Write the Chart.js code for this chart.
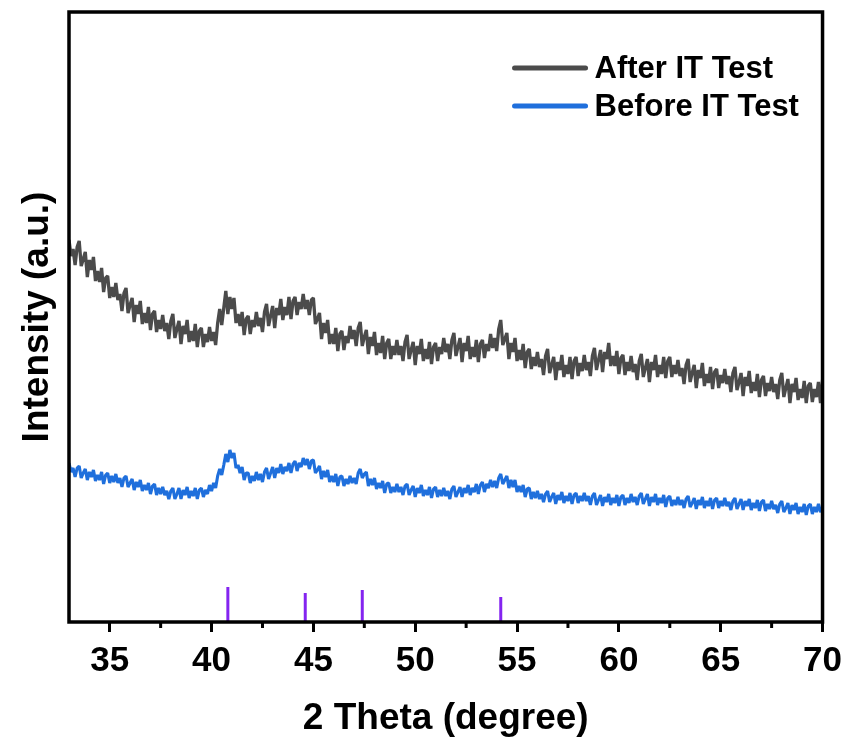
<!DOCTYPE html>
<html>
<head>
<meta charset="utf-8">
<script src="https://cdn.jsdelivr.net/npm/chart.js@4.4.0/dist/chart.umd.min.js"></script>
<style>
    body { margin: 0; background: #fff; }
    #wrap { width: 850px; height: 744px; }
</style>
</head>
<body>
<div id="wrap"><canvas id="xrd" width="850" height="744"></canvas></div>
<script>
// 2 theta scan (degree), one row per degree
const twoTheta = [
    33.0, 33.1, 33.2, 33.3, 33.4, 33.5, 33.6, 33.7, 33.8, 33.9,
    34.0, 34.1, 34.2, 34.3, 34.4, 34.5, 34.6, 34.7, 34.8, 34.9,
    35.0, 35.1, 35.2, 35.3, 35.4, 35.5, 35.6, 35.7, 35.8, 35.9,
    36.0, 36.1, 36.2, 36.3, 36.4, 36.5, 36.6, 36.7, 36.8, 36.9,
    37.0, 37.1, 37.2, 37.3, 37.4, 37.5, 37.6, 37.7, 37.8, 37.9,
    38.0, 38.1, 38.2, 38.3, 38.4, 38.5, 38.6, 38.7, 38.8, 38.9,
    39.0, 39.1, 39.2, 39.3, 39.4, 39.5, 39.6, 39.7, 39.8, 39.9,
    40.0, 40.1, 40.2, 40.3, 40.4, 40.5, 40.6, 40.7, 40.8, 40.9,
    41.0, 41.1, 41.2, 41.3, 41.4, 41.5, 41.6, 41.7, 41.8, 41.9,
    42.0, 42.1, 42.2, 42.3, 42.4, 42.5, 42.6, 42.7, 42.8, 42.9,
    43.0, 43.1, 43.2, 43.3, 43.4, 43.5, 43.6, 43.7, 43.8, 43.9,
    44.0, 44.1, 44.2, 44.3, 44.4, 44.5, 44.6, 44.7, 44.8, 44.9,
    45.0, 45.1, 45.2, 45.3, 45.4, 45.5, 45.6, 45.7, 45.8, 45.9,
    46.0, 46.1, 46.2, 46.3, 46.4, 46.5, 46.6, 46.7, 46.8, 46.9,
    47.0, 47.1, 47.2, 47.3, 47.4, 47.5, 47.6, 47.7, 47.8, 47.9,
    48.0, 48.1, 48.2, 48.3, 48.4, 48.5, 48.6, 48.7, 48.8, 48.9,
    49.0, 49.1, 49.2, 49.3, 49.4, 49.5, 49.6, 49.7, 49.8, 49.9,
    50.0, 50.1, 50.2, 50.3, 50.4, 50.5, 50.6, 50.7, 50.8, 50.9,
    51.0, 51.1, 51.2, 51.3, 51.4, 51.5, 51.6, 51.7, 51.8, 51.9,
    52.0, 52.1, 52.2, 52.3, 52.4, 52.5, 52.6, 52.7, 52.8, 52.9,
    53.0, 53.1, 53.2, 53.3, 53.4, 53.5, 53.6, 53.7, 53.8, 53.9,
    54.0, 54.1, 54.2, 54.3, 54.4, 54.5, 54.6, 54.7, 54.8, 54.9,
    55.0, 55.1, 55.2, 55.3, 55.4, 55.5, 55.6, 55.7, 55.8, 55.9,
    56.0, 56.1, 56.2, 56.3, 56.4, 56.5, 56.6, 56.7, 56.8, 56.9,
    57.0, 57.1, 57.2, 57.3, 57.4, 57.5, 57.6, 57.7, 57.8, 57.9,
    58.0, 58.1, 58.2, 58.3, 58.4, 58.5, 58.6, 58.7, 58.8, 58.9,
    59.0, 59.1, 59.2, 59.3, 59.4, 59.5, 59.6, 59.7, 59.8, 59.9,
    60.0, 60.1, 60.2, 60.3, 60.4, 60.5, 60.6, 60.7, 60.8, 60.9,
    61.0, 61.1, 61.2, 61.3, 61.4, 61.5, 61.6, 61.7, 61.8, 61.9,
    62.0, 62.1, 62.2, 62.3, 62.4, 62.5, 62.6, 62.7, 62.8, 62.9,
    63.0, 63.1, 63.2, 63.3, 63.4, 63.5, 63.6, 63.7, 63.8, 63.9,
    64.0, 64.1, 64.2, 64.3, 64.4, 64.5, 64.6, 64.7, 64.8, 64.9,
    65.0, 65.1, 65.2, 65.3, 65.4, 65.5, 65.6, 65.7, 65.8, 65.9,
    66.0, 66.1, 66.2, 66.3, 66.4, 66.5, 66.6, 66.7, 66.8, 66.9,
    67.0, 67.1, 67.2, 67.3, 67.4, 67.5, 67.6, 67.7, 67.8, 67.9,
    68.0, 68.1, 68.2, 68.3, 68.4, 68.5, 68.6, 68.7, 68.8, 68.9,
    69.0, 69.1, 69.2, 69.3, 69.4, 69.5, 69.6, 69.7, 69.8, 69.9,
    70.0
];

// After IT Test (a.u.)
const afterTest = [
    382, 366, 373, 357, 375, 381, 356, 363, 370, 345,
    362, 352, 365, 341, 351, 340, 354, 330, 344, 346,
    324, 335, 325, 339, 322, 328, 311, 329, 334, 309,
    317, 324, 300, 317, 308, 321, 298, 309, 299, 315,
    292, 308, 311, 290, 302, 293, 307, 291, 299, 283,
    301, 308, 284, 293, 301, 278, 296, 288, 302, 280,
    291, 281, 298, 275, 291, 294, 275, 288, 280, 295,
    281, 290, 277, 299, 313, 297, 314, 331, 308, 325,
    313, 324, 299, 308, 296, 310, 287, 303, 306, 288,
    302, 295, 310, 296, 304, 290, 310, 318, 296, 306,
    316, 294, 314, 307, 323, 302, 315, 307, 325, 303,
    321, 325, 307, 320, 313, 328, 313, 322, 307, 322,
    324, 298, 303, 309, 283, 299, 289, 302, 278, 288,
    278, 294, 271, 288, 291, 272, 286, 279, 296, 283,
    292, 276, 294, 300, 276, 285, 292, 268, 285, 276,
    290, 267, 279, 269, 286, 263, 279, 283, 263, 276,
    267, 282, 267, 276, 261, 280, 287, 263, 272, 280,
    257, 276, 268, 283, 261, 273, 263, 280, 258, 275,
    279, 261, 275, 268, 284, 270, 278, 263, 282, 289,
    266, 275, 284, 260, 279, 271, 286, 263, 275, 265,
    282, 260, 278, 282, 264, 278, 271, 288, 274, 284,
    271, 293, 302, 277, 283, 289, 263, 279, 270, 284,
    261, 272, 262, 278, 254, 270, 273, 253, 265, 256,
    270, 255, 263, 247, 266, 273, 249, 257, 265, 242,
    260, 252, 267, 245, 257, 248, 265, 243, 261, 265,
    246, 259, 251, 267, 252, 260, 246, 266, 274, 252,
    262, 272, 250, 270, 263, 279, 256, 266, 256, 271,
    248, 264, 267, 247, 260, 251, 266, 250, 258, 242,
    261, 268, 245, 254, 263, 240, 260, 252, 267, 245,
    257, 248, 265, 244, 261, 265, 245, 257, 248, 262,
    246, 254, 238, 257, 263, 240, 249, 257, 234, 252,
    244, 259, 236, 248, 239, 255, 233, 250, 253, 234,
    247, 239, 253, 238, 246, 230, 249, 255, 232, 240,
    249, 226, 245, 236, 251, 229, 240, 231, 248, 225,
    242, 246, 226, 239, 231, 245, 230, 238, 223, 242,
    249, 225, 234, 243, 219, 238, 230, 244, 222, 233,
    224, 241, 219, 236, 239, 220, 233, 225, 240, 219,
    242
];

// Before IT Test (a.u.)
const beforeTest = [
    159, 150, 154, 145, 154, 156, 144, 149, 153, 142,
    150, 145, 152, 141, 147, 142, 150, 138, 147, 149,
    139, 146, 140, 148, 139, 144, 135, 144, 146, 135,
    139, 143, 132, 140, 135, 142, 131, 137, 132, 139,
    128, 136, 138, 127, 134, 128, 135, 127, 131, 123,
    131, 134, 123, 128, 134, 123, 132, 127, 135, 124,
    131, 126, 134, 123, 132, 134, 125, 132, 128, 137,
    131, 139, 134, 146, 153, 147, 157, 168, 160, 172,
    164, 169, 154, 157, 149, 155, 142, 149, 149, 139,
    146, 141, 150, 142, 148, 140, 150, 154, 143, 149,
    155, 144, 154, 149, 158, 148, 155, 151, 159, 149,
    158, 161, 151, 159, 155, 164, 157, 163, 153, 161,
    162, 149, 152, 156, 143, 151, 145, 152, 140, 146,
    140, 148, 136, 145, 146, 136, 143, 138, 146, 139,
    144, 138, 149, 153, 144, 148, 150, 136, 143, 137,
    144, 133, 139, 134, 141, 129, 138, 139, 129, 135,
    130, 138, 130, 135, 127, 136, 138, 127, 132, 136,
    125, 134, 129, 137, 126, 132, 127, 135, 124, 133,
    135, 125, 132, 126, 134, 126, 131, 123, 133, 136,
    125, 130, 135, 125, 134, 129, 137, 127, 134, 130,
    138, 128, 137, 140, 130, 138, 134, 142, 135, 141,
    134, 144, 148, 138, 142, 146, 134, 142, 135, 142,
    130, 136, 130, 137, 125, 133, 134, 123, 130, 124,
    131, 123, 128, 120, 128, 131, 120, 125, 129, 118,
    127, 122, 130, 119, 126, 121, 129, 118, 127, 129,
    119, 126, 121, 129, 121, 126, 117, 126, 129, 117,
    122, 127, 116, 125, 120, 128, 117, 124, 119, 127,
    116, 125, 127, 117, 124, 119, 128, 120, 125, 117,
    126, 129, 118, 123, 128, 116, 125, 120, 128, 117,
    124, 119, 127, 115, 124, 126, 116, 122, 117, 125,
    117, 122, 114, 123, 126, 115, 119, 124, 113, 122,
    117, 125, 114, 121, 116, 124, 113, 122, 124, 114,
    121, 116, 124, 116, 120, 112, 121, 124, 113, 118,
    123, 112, 121, 116, 123, 112, 119, 114, 122, 111,
    120, 122, 111, 118, 113, 121, 113, 117, 109, 118,
    121, 110, 114, 119, 108, 117, 112, 119, 108, 115,
    110, 118, 107, 116, 118, 108, 115, 110, 118, 110,
    114
];

// reference peak positions and stick heights
const refPos = [40.8, 44.6, 47.4, 54.2];
const refHeight = [35, 29, 32, 25];

const xTicks = [35, 40, 45, 50, 55, 60, 65, 70];
const xMinorTicks = [37.5, 42.5, 47.5, 52.5, 57.5, 62.5, 67.5];

const FONT = "'Liberation Sans', Arial, sans-serif";

const toXY = (ys) => twoTheta.map((t, i) => ({ x: t, y: ys[i] }));

let refData = [];
refPos.forEach((p, i) => {
    refData.push({ x: p, y: 0 }, { x: p, y: refHeight[i] }, { x: p, y: null });
});

// box frame + minor ticks
const framePlugin = {
    id: 'frame',
    afterDraw(chart) {
        const { ctx, chartArea: a } = chart;
        const xs = chart.scales.x;
        ctx.save();
        ctx.strokeStyle = '#000';
        ctx.lineWidth = 3.5;
        ctx.strokeRect(a.left, a.top, a.right - a.left, a.bottom - a.top);
        ctx.lineWidth = 3;
        xMinorTicks.forEach(v => {
            const px = xs.getPixelForValue(v);
            ctx.beginPath();
            ctx.moveTo(px, a.bottom);
            ctx.lineTo(px, a.bottom + 6);
            ctx.stroke();
        });
        ctx.restore();
    }
};

// legend inside the plot, top right
const legendPlugin = {
    id: 'innerLegend',
    afterDraw(chart) {
        const { ctx, chartArea: a } = chart;
        ctx.save();
        ctx.font = 'bold 31px ' + FONT;
        ctx.textBaseline = 'middle';
        ctx.textAlign = 'left';
        chart.data.datasets.slice(0, 2).forEach((ds, i) => {
            const y = a.top + 56 + i * 38;
            ctx.strokeStyle = ds.borderColor;
            ctx.lineWidth = 5;
            ctx.lineCap = 'round';
            ctx.beginPath();
            ctx.moveTo(a.right - 308, y);
            ctx.lineTo(a.right - 237, y);
            ctx.stroke();
            ctx.fillStyle = '#000';
            ctx.fillText(ds.label, a.right - 228, y + 1);
        });
        ctx.restore();
    }
};

new Chart(document.getElementById('xrd'), {
    type: 'line',
    data: {
        datasets: [{
            label: 'After IT Test',
            data: toXY(afterTest),
            borderColor: '#4b4b4b',
            borderWidth: 3.3,
            borderJoinStyle: 'bevel',
            pointRadius: 0,
            tension: 0
        }, {
            label: 'Before IT Test',
            data: toXY(beforeTest),
            borderColor: '#1f6fdc',
            borderWidth: 3.1,
            borderJoinStyle: 'bevel',
            pointRadius: 0,
            tension: 0
        }, {
            label: 'ref',
            data: refData,
            borderColor: '#8424f0',
            borderWidth: 3,
            pointRadius: 0,
            spanGaps: false
        }]
    },
    options: {
        responsive: false,
        animation: false,
        devicePixelRatio: 1,
        layout: { padding: { top: 12, right: 26, left: 0, bottom: 0 } },
        plugins: {
            legend: { display: false },
            tooltip: { enabled: false }
        },
        scales: {
            x: {
                type: 'linear',
                min: 33,
                max: 70,
                afterBuildTicks(scale) {
                    scale.ticks = xTicks.map(v => ({ value: v }));
                },
                afterFit(scale) {
                    scale.height = 122;
                },
                border: { display: false },
                grid: {
                    display: true,
                    drawOnChartArea: false,
                    drawTicks: true,
                    tickLength: 10,
                    tickWidth: 3,
                    tickColor: '#000'
                },
                ticks: {
                    color: '#000',
                    autoSkip: false,
                    maxRotation: 0,
                    padding: 8,
                    font: { family: FONT, size: 35, weight: 'bold' }
                },
                title: {
                    display: true,
                    text: '2 Theta (degree)',
                    color: '#000',
                    padding: { top: 0, bottom: 3 },
                    font: { family: FONT, size: 37, weight: 'bold' }
                }
            },
            y: {
                min: 0,
                max: 610,
                afterFit(scale) {
                    scale.width = 69;
                },
                border: { display: false },
                grid: { display: false },
                ticks: { display: false },
                title: {
                    display: true,
                    text: 'Intensity (a.u.)',
                    color: '#000',
                    padding: { top: 16, bottom: 0 },
                    font: { family: FONT, size: 37, weight: 'bold' }
                }
            }
        }
    },
    plugins: [framePlugin, legendPlugin]
});
</script>
</body>
</html>
